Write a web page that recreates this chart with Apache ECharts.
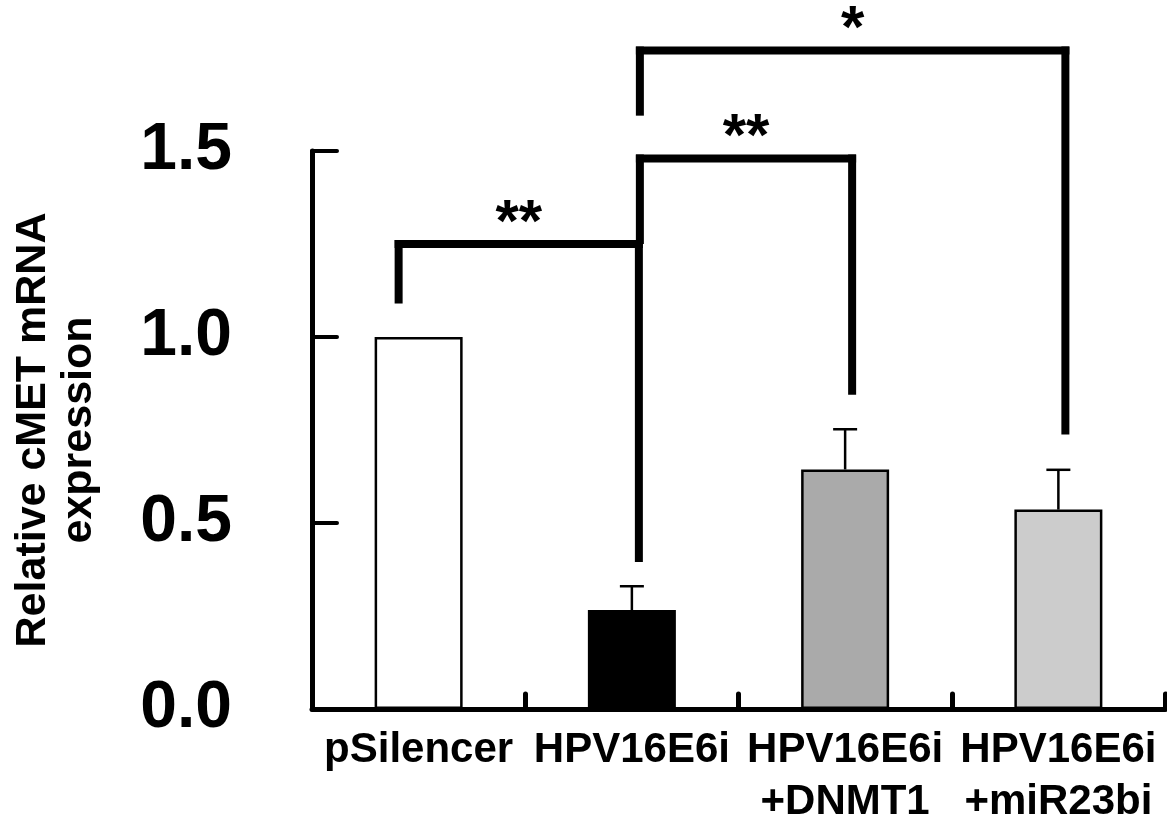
<!DOCTYPE html>
<html>
<head>
<meta charset="utf-8">
<script src="https://cdn.jsdelivr.net/npm/echarts@6/dist/echarts.min.js"></script>
<style>
html,body{margin:0;padding:0;background:#fff;}
#chart{width:1167px;height:828px;}
</style>
</head>
<body>
<div id="chart"></div>
<script>
// ---- data ----
var categories = ['pSilencer', 'HPV16E6i', 'HPV16E6i\n+DNMT1', 'HPV16E6i\n+miR23bi'];
var means = [1.0, 0.266, 0.644, 0.536];
var errors = [0, 0.064, 0.108, 0.107];
var barColors = ['#ffffff', '#000000', '#aaaaaa', '#cccccc'];
var yTicks = [0, 0.5, 1.0, 1.5];
// significance brackets
var bracketFrom = [0, 1, 1];
var bracketTo = [1, 2, 3];
var bracketY = [1.25, 1.48, 1.77];
var bracketFromEnd = [1.09, 1.25, 1.595];
var bracketToEnd = [0.395, 0.845, 0.738];
var bracketLabels = ['**', '**', '*'];

var chart = echarts.init(document.getElementById('chart'));

var barData = means.map(function (v, i) {
  return { value: v, itemStyle: { color: barColors[i] } };
});
var errData = means.map(function (v, i) { return [i, v, v + errors[i]]; }).filter(function (d, i) { return errors[i] > 0; });
var brData = bracketFrom.map(function (f, i) {
  return [f, bracketTo[i], bracketY[i], bracketFromEnd[i], bracketToEnd[i], i];
});

var option = {
  animation: false,
  backgroundColor: '#ffffff',
  grid: { left: 312, top: 151, width: 853, height: 569, containLabel: false },
  xAxis: {
    type: 'category',
    data: categories,
    axisLine: { lineStyle: { color: '#000', width: 5 } },
    axisTick: { show: true, inside: true, length: 15, alignWithLabel: false, lineStyle: { color: '#000', width: 5, cap: 'round' } },
    axisLabel: {
      interval: 0, margin: 15, color: '#000',
      fontFamily: 'Liberation Sans, Arial, sans-serif', fontWeight: 'bold', fontSize: 42, lineHeight: 52
    },
    splitLine: { show: false }
  },
  yAxis: {
    type: 'value',
    min: 0, max: 1.5, interval: 0.5,
    name: 'Relative cMET mRNA\nexpression',
    nameLocation: 'middle',
    nameGap: 210,
    nameRotate: 90,
    nameTextStyle: { color: '#000', fontFamily: 'Liberation Sans, Arial, sans-serif', fontWeight: 'bold', fontSize: 43, lineHeight: 46 },
    axisLine: { show: true, lineStyle: { color: '#000', width: 5 } },
    axisTick: { show: true, inside: true, length: 25, lineStyle: { color: '#000', width: 4, cap: 'round' } },
    axisLabel: {
      margin: 80, color: '#000', fontFamily: 'Liberation Sans, Arial, sans-serif', fontWeight: 'bold', fontSize: 66,
      formatter: function (v) { return v.toFixed(1); }
    },
    splitLine: { show: false }
  },
  series: [
    {
      type: 'bar',
      data: barData,
      barWidth: 88,
      itemStyle: { borderColor: '#000', borderWidth: 2.5 },
      z: 2
    },
    {
      type: 'custom',
      data: errData,
      z: 3,
      renderItem: function (params, api) {
        var x = api.value(0);
        var p0 = api.coord([x, api.value(1)]);
        var p1 = api.coord([x, api.value(2)]);
        var hw = 12;
        return {
          type: 'group',
          children: [
            { type: 'line', shape: { x1: p0[0], y1: p0[1], x2: p1[0], y2: p1[1] }, style: { stroke: '#000', lineWidth: 2.5 } },
            { type: 'line', shape: { x1: p1[0] - hw, y1: p1[1], x2: p1[0] + hw, y2: p1[1] }, style: { stroke: '#000', lineWidth: 2.5 } }
          ]
        };
      }
    },
    {
      type: 'custom',
      data: brData,
      clip: false,
      z: 4,
      renderItem: function (params, api) {
        var f = api.value(0), t = api.value(1);
        var idx = api.value(5);
        var xf = api.coord([f, 0])[0] + (f === 0 ? -20 : 8);
        var xt = api.coord([t, 0])[0] + 7;
        var yTop = api.coord([f, api.value(2)])[1];
        var yFe = api.coord([f, api.value(3)])[1];
        var yTe = api.coord([t, api.value(4)])[1];
        var lw = 8;
        var st = { stroke: '#000', lineWidth: lw, lineCap: 'butt' };
        return {
          type: 'group',
          children: [
            { type: 'line', shape: { x1: xf - lw / 2, y1: yTop, x2: xt + lw / 2, y2: yTop }, style: st },
            { type: 'line', shape: { x1: xf, y1: yTop - lw / 2, x2: xf, y2: yFe }, style: st },
            { type: 'line', shape: { x1: xt, y1: yTop - lw / 2, x2: xt, y2: yTe }, style: st },
            {
              type: 'text',
              style: {
                text: bracketLabels[idx],
                x: (xf + xt) / 2, y: yTop + 10,
                align: 'center', verticalAlign: 'bottom',
                fill: '#000', font: 'bold 60px "Liberation Sans", Arial, sans-serif'
              }
            }
          ]
        };
      }
    }
  ]
};
chart.setOption(option);
</script>
</body>
</html>
